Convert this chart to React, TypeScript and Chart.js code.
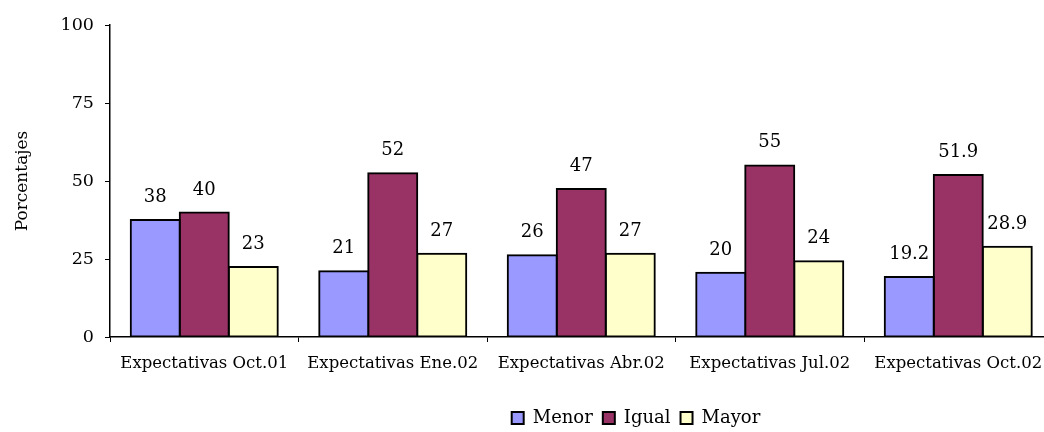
import React, { useEffect, useRef } from "react";
import { Chart, registerables } from "chart.js";

Chart.register(...registerables);

const categories = [
  "Expectativas Oct.01",
  "Expectativas Ene.02",
  "Expectativas Abr.02",
  "Expectativas Jul.02",
  "Expectativas Oct.02",
];
const seriesNames = ["Menor", "Igual", "Mayor"];
const menor = [37.5, 21.1, 26.2, 20.6, 19.2];
const igual = [39.9, 52.5, 47.4, 55.0, 51.9];
const mayor = [22.4, 26.7, 26.7, 24.3, 28.9];
const menorLabels = ["38", "21", "26", "20", "19.2"];
const igualLabels = ["40", "52", "47", "55", "51.9"];
const mayorLabels = ["23", "27", "27", "24", "28.9"];
const yTicks = [0, 25, 50, 75, 100];
const yTitle = "Porcentajes";

const FONT = "'DejaVu Serif', 'Liberation Serif', serif";

export default function App() {
  const ref = useRef<HTMLCanvasElement | null>(null);

  useEffect(() => {
    if (!ref.current) return;
    const labelSets = [menorLabels, igualLabels, mayorLabels];

    const valueLabels = {
      id: "valueLabels",
      afterDatasetsDraw(chart: any) {
        const ctx = chart.ctx;
        ctx.save();
        ctx.font = `18px ${FONT}`;
        ctx.fillStyle = "#000";
        ctx.textAlign = "center";
        ctx.textBaseline = "alphabetic";
        chart.data.datasets.forEach((ds: any, di: number) => {
          const meta = chart.getDatasetMeta(di);
          meta.data.forEach((bar: any, i: number) => {
            ctx.fillText(labelSets[di][i], bar.x, bar.y - 18);
          });
        });
        ctx.restore();
      },
    };

    const legendShift = {
      id: "legendShift",
      afterLayout(chart: any) {
        const l = chart.legend;
        if (!l) return;
        const shift = 636 - (l.left + l.right) / 2;
        l.left += shift;
        l.right += shift;
        l.top += 5;
        l.bottom += 5;
      },
    };

    const chart = new Chart(ref.current, {
      type: "bar",
      data: {
        labels: categories,
        datasets: [
          { label: seriesNames[0], data: menor, backgroundColor: "#9999FF" },
          { label: seriesNames[1], data: igual, backgroundColor: "#993366" },
          { label: seriesNames[2], data: mayor, backgroundColor: "#FFFFCC" },
        ].map((d) => ({
          ...d,
          borderColor: "#000",
          borderWidth: 2,
          borderSkipped: false,
          inflateAmount: 1,
          barPercentage: 1,
          categoryPercentage: 0.78,
        })),
      },
      options: {
        responsive: false,
        animation: false,
        devicePixelRatio: 1,
        layout: { padding: { left: 0, right: 27.5, top: 25, bottom: 0 } },
        plugins: {
          title: { display: false },
          tooltip: { enabled: false },
          legend: {
            position: "bottom",
            labels: {
              font: { family: FONT, size: 18 },
              color: "#000",
              boxWidth: 12,
              boxHeight: 12,
              padding: 10,
            },
          },
        },
        scales: {
          x: {
            grid: {
              offset: true,
              drawOnChartArea: false,
              drawTicks: true,
              tickLength: 5,
              color: "#000",
              lineWidth: 1,
            },
            border: { color: "#000", width: 1.5 },
            ticks: {
              font: { family: FONT, size: 16.5 },
              color: "#000",
              padding: 12,
              maxRotation: 0,
              autoSkip: false,
            },
            afterFit(scale: any) {
              scale.height = 57;
            },
          },
          y: {
            min: 0,
            max: 100,
            afterBuildTicks(scale: any) {
              scale.ticks = yTicks.map((v) => ({ value: v }));
            },
            grid: {
              drawOnChartArea: false,
              drawTicks: true,
              tickLength: 5,
              color: "#000",
              lineWidth: 1,
            },
            border: { color: "#000", width: 1.5 },
            ticks: {
              font: { family: FONT, size: 17.5 },
              color: "#000",
              padding: 11,
            },
            title: {
              display: true,
              text: yTitle,
              font: { family: FONT, size: 17 },
              color: "#000",
              padding: { top: 12, bottom: 0 },
            },
            afterFit(scale: any) {
              scale.width = 110;
            },
          },
        },
      },
      plugins: [valueLabels, legendShift],
    } as any);

    return () => chart.destroy();
  }, []);

  return (
    <div
      style={{
        position: "fixed",
        left: 0,
        top: 0,
        width: 1044,
        height: 432,
        overflow: "hidden",
        background: "#fff",
      }}
    >
      <canvas ref={ref} width={1080} height={432} style={{ display: "block" }} />
    </div>
  );
}
